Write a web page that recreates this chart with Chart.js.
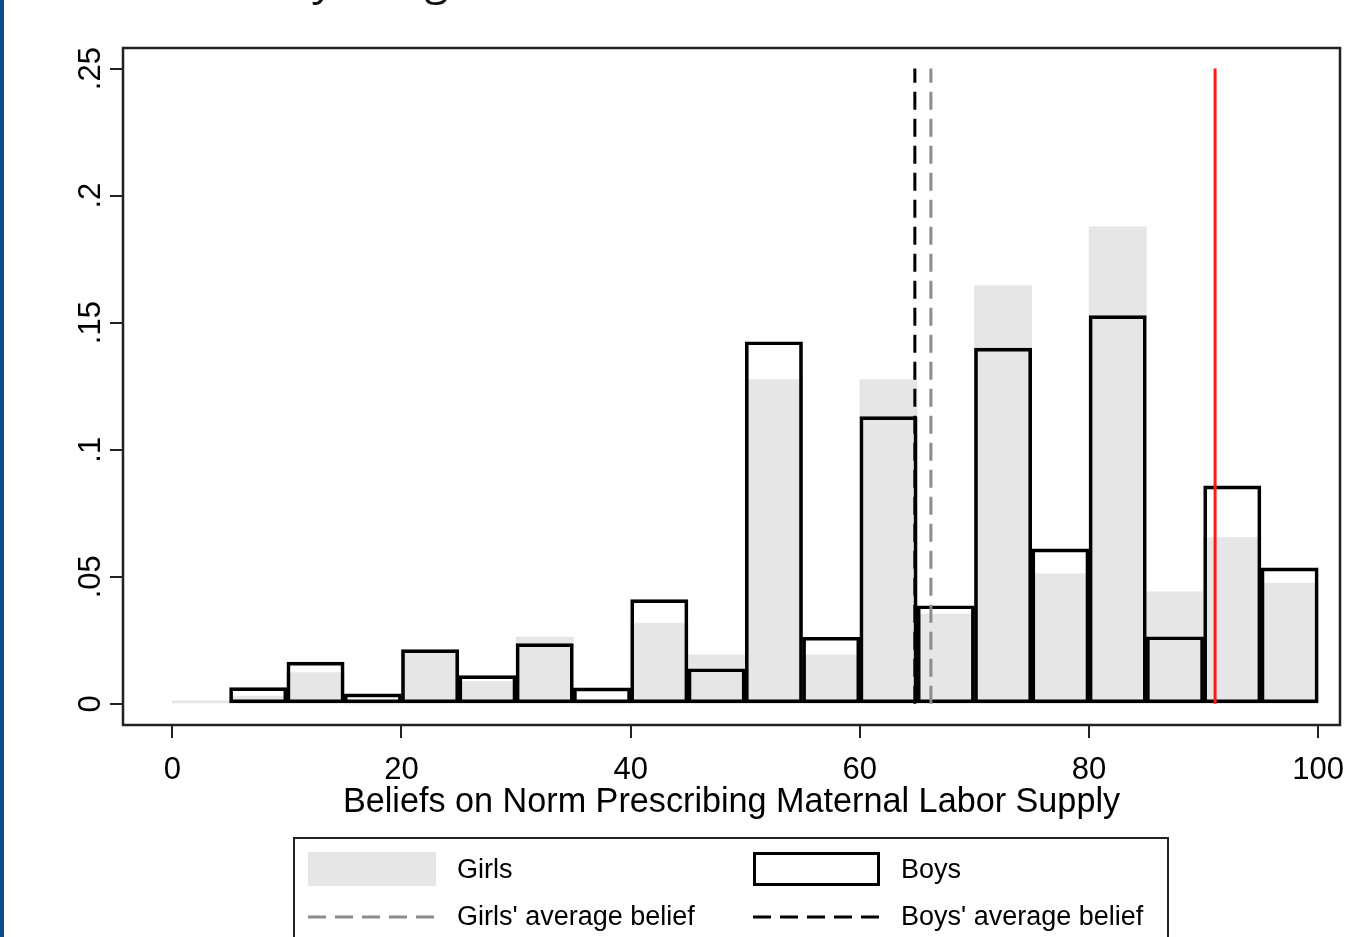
<!DOCTYPE html>
<html>
<head>
<meta charset="utf-8">
<script src="https://cdn.jsdelivr.net/npm/chart.js@4.4.1/dist/chart.umd.min.js"></script>
<style>
  body { margin: 0; background: #fff; overflow: hidden; }
  #wrap { position: relative; width: 1345px; height: 937px; }
  #blueBar { position: absolute; left: 0; top: 0; width: 4px; height: 937px; background: #0d4a8c; }
  #slideTitle { position: absolute; left: 138px; top: -53px; font-family: "Open Sans"; font-size: 44px; line-height: 60px; color: #111; white-space: nowrap; }
</style>
</head>
<body>
<div id="wrap">
  <canvas id="histChart"></canvas>
  <div id="blueBar"></div>
  <div id="slideTitle">Beliefs by the gender</div>
</div>
<script>
// histogram bins (width 5), centres
const binCenters = [2.5, 7.5, 12.5, 17.5, 22.5, 27.5, 32.5, 37.5, 42.5, 47.5, 52.5, 57.5, 62.5, 67.5, 72.5, 77.5, 82.5, 87.5, 92.5, 97.5]
const girlsDensity = [0.0012, 0.003, 0.0123, 0, 0.021, 0.0087, 0.0263, 0, 0.0318, 0.0193, 0.1276, 0.0193, 0.1276, 0.0353, 0.1646, 0.0512, 0.1877, 0.0441, 0.0654, 0.0475]
const boysDensity = [0, 0.0064, 0.0164, 0.0039, 0.0213, 0.0111, 0.0237, 0.0063, 0.041, 0.0138, 0.1425, 0.0262, 0.113, 0.0386, 0.140, 0.061, 0.1528, 0.0264, 0.0858, 0.0535]

const girlsMean = 66.2
const boysMean = 64.8
const redLineAt = 91.0
const lineTop = 0.25

const xTicks = [0, 20, 40, 60, 80, 100]
const yTicks = [0, 0.05, 0.1, 0.15, 0.2, 0.25]
const yTickLabels = ['0', '.05', '.1', '.15', '.2', '.25']
const xTitle = 'Beliefs on Norm Prescribing Maternal Labor Supply'
const legendLabels = ['Girls', 'Boys', "Girls' average belief", "Boys' average belief"]

const FONT = '"Liberation Sans", Arial, sans-serif'

function vline(x){
  return [{x: x, y: 0}, {x: x, y: lineTop}]
}

const stataLook = {
  id: 'stataLook',
  afterDraw(chart){
    const ctx = chart.ctx
    const a = chart.chartArea
    const xs = chart.scales.x
    const ys = chart.scales.y
    ctx.save()

    // plot region frame
    ctx.strokeStyle = '#222'
    ctx.lineWidth = 2.5
    ctx.strokeRect(a.left, a.top, a.right - a.left, a.bottom - a.top)

    ctx.fillStyle = '#000'
    ctx.font = '31px ' + FONT

    // x tick labels
    ctx.textAlign = 'center'
    ctx.textBaseline = 'alphabetic'
    xTicks.forEach(function(v){
      ctx.fillText(String(v), xs.getPixelForValue(v), 779)
    })

    // y tick labels, rotated
    yTicks.forEach(function(v, i){
      ctx.save()
      ctx.translate(100, ys.getPixelForValue(v))
      ctx.rotate(-Math.PI / 2)
      ctx.textAlign = 'center'
      ctx.fillText(yTickLabels[i], 0, 0)
      ctx.restore()
    })

    // x title
    ctx.font = '34.2px ' + FONT
    ctx.fillText(xTitle, (a.left + a.right) / 2, 812)

    // legend box
    ctx.strokeStyle = '#222'
    ctx.lineWidth = 2
    ctx.strokeRect(294, 838, 874, 140)

    ctx.fillStyle = '#e6e6e6'
    ctx.fillRect(308, 852, 128, 34)

    ctx.strokeStyle = '#000'
    ctx.lineWidth = 3
    ctx.strokeRect(754.5, 853.5, 124, 31)

    ctx.setLineDash([18, 9])
    ctx.strokeStyle = '#8c8c8c'
    ctx.beginPath(); ctx.moveTo(308, 917); ctx.lineTo(436, 917); ctx.stroke()
    ctx.strokeStyle = '#000'
    ctx.beginPath(); ctx.moveTo(753, 917); ctx.lineTo(879, 917); ctx.stroke()
    ctx.setLineDash([])

    ctx.fillStyle = '#000'
    ctx.font = '27px ' + FONT
    ctx.textAlign = 'left'
    ctx.textBaseline = 'middle'
    ctx.fillText(legendLabels[0], 457, 871)
    ctx.fillText(legendLabels[1], 901, 871)
    ctx.fillText(legendLabels[2], 457, 918)
    ctx.fillText(legendLabels[3], 901, 918)

    ctx.restore()
  }
}

function createHistogram(chartId){
  const data = {
    datasets: [
      {
        type: 'bar',
        label: 'Girls',
        data: binCenters.map(function(c, i){ return {x: c, y: girlsDensity[i]} }),
        backgroundColor: '#e6e6e6',
        borderWidth: 0,
        grouped: false,
        barPercentage: 1,
        categoryPercentage: 1,
        order: 5
      },
      {
        type: 'bar',
        label: 'Boys',
        data: binCenters.map(function(c, i){ return {x: c, y: boysDensity[i]} }),
        backgroundColor: 'rgba(0,0,0,0)',
        borderColor: '#000',
        borderWidth: 3,
        borderSkipped: false,
        grouped: false,
        barPercentage: 1,
        categoryPercentage: 1,
        order: 4
      },
      {
        type: 'line',
        label: "Girls' average belief",
        data: vline(girlsMean),
        borderColor: '#8c8c8c',
        borderWidth: 3,
        borderDash: [18, 9],
        pointRadius: 0,
        order: 3
      },
      {
        type: 'line',
        label: "Boys' average belief",
        data: vline(boysMean),
        borderColor: '#000',
        borderWidth: 3,
        borderDash: [18, 9],
        pointRadius: 0,
        order: 2
      },
      {
        type: 'line',
        label: 'reference',
        data: vline(redLineAt),
        borderColor: '#ff1a1a',
        borderWidth: 3,
        pointRadius: 0,
        order: 1
      }
    ]
  }

  const config = {
    type: 'bar',
    data: data,
    options: {
      responsive: true,
      maintainAspectRatio: false,
      animation: false,
      layout: { padding: { top: 48, right: 5, left: 0, bottom: 0 } },
      plugins: {
        legend: { display: false },
        tooltip: { enabled: false },
        title: { display: false }
      },
      scales: {
        x: {
          type: 'linear',
          offset: false,
          min: -4.3,
          max: 101.9,
          afterBuildTicks: function(scale){ scale.ticks = xTicks.map(function(v){ return {value: v} }) },
          afterFit: function(scale){ scale.height = 212 },
          ticks: { display: false },
          grid: { offset: false, drawOnChartArea: false, drawTicks: true, tickLength: 13, color: '#222', lineWidth: 2 },
          border: { display: false }
        },
        y: {
          type: 'linear',
          min: -0.00834,
          max: 0.2581,
          afterBuildTicks: function(scale){ scale.ticks = yTicks.map(function(v){ return {value: v} }) },
          afterFit: function(scale){ scale.width = 123 },
          ticks: { display: false },
          grid: { drawOnChartArea: false, drawTicks: true, tickLength: 13, color: '#222', lineWidth: 2 },
          border: { display: false }
        }
      }
    },
    plugins: [stataLook]
  }

  const ctx = document.getElementById(chartId).getContext('2d')
  new Chart(ctx, config)
}

createHistogram('histChart')
</script>
</body>
</html>
